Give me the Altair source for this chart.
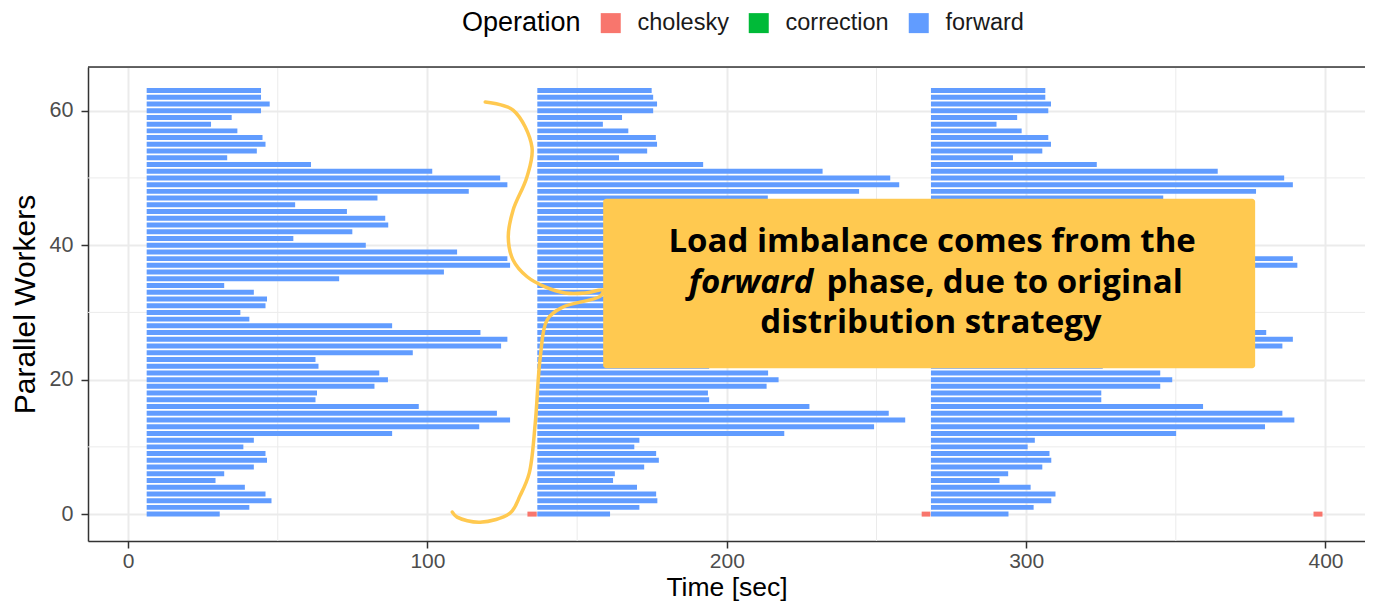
import altair as alt
import pandas as pd

# ---------------- data ----------------
workers = list(range(64))
phase_start = [6.2, 136.7, 268.2]

phase1_end = [30.6, 40.5, 47.9, 45.9, 39.0, 29.2, 32.1, 42.0, 46.4, 45.9,
              38.5, 42.0, 88.2, 117.3, 127.6, 123.2, 97.1, 62.6, 63.1, 82.3,
              86.8, 83.9, 63.6, 62.6, 95.1, 124.6, 126.7, 117.7, 88.2, 40.5,
              37.5, 45.9, 46.4, 42.0, 32.1, 70.5, 105.5, 127.6, 126.7, 109.9,
              79.4, 55.2, 74.9, 86.9, 85.9, 73.1, 55.8, 83.3, 113.8, 126.7,
              124.3, 101.6, 61.1, 33.1, 43.0, 45.9, 44.9, 36.5, 27.7, 34.6,
              44.4, 47.3, 44.4, 44.4]

phase2_end = [161.0, 170.8, 176.8, 176.4, 170.0, 162.0, 162.6, 172.4, 177.3, 176.4,
              169.1, 170.8, 219.2, 249.2, 259.6, 254.1, 227.6, 194.1, 193.7, 213.3,
              217.3, 213.8, 194.1, 193.1, 225.6, 255.1, 257.2, 248.2, 218.7, 171.0,
              168.0, 176.4, 176.9, 172.5, 162.6, 201.0, 236.0, 258.1, 257.2, 240.4,
              209.9, 185.7, 205.4, 217.4, 216.4, 203.6, 186.3, 213.7, 244.2, 257.6,
              254.6, 232.0, 192.1, 164.0, 173.4, 176.7, 176.3, 167.1, 158.6, 165.0,
              175.4, 176.7, 175.4, 174.9]

phase3_end = [294.1, 302.5, 308.4, 309.8, 301.5, 291.1, 294.0, 305.4, 308.4, 307.8,
              300.5, 302.9, 350.1, 379.8, 389.6, 385.6, 359.1, 325.1, 325.1, 344.8,
              348.8, 344.8, 325.6, 324.6, 357.1, 385.6, 389.1, 380.2, 350.2, 302.5,
              299.5, 307.9, 308.4, 304.0, 294.1, 332.5, 367.5, 390.6, 389.1, 371.9,
              341.4, 317.2, 336.9, 348.9, 347.9, 335.1, 317.8, 345.8, 376.8, 389.1,
              386.2, 364.0, 323.6, 295.6, 305.4, 308.3, 307.4, 298.5, 290.1, 297.0,
              307.4, 308.3, 306.4, 306.4]

chol_worker = [0, 0, 0]
chol_start = [133.4, 265.1, 396.0]
chol_end = [136.5, 268.0, 399.0]

operations = ["cholesky", "correction", "forward"]
op_colors = ["#F8766D", "#00BA38", "#619CFF"]

x_major = [0, 100, 200, 300, 400]
x_minor = [50, 150, 250, 350]
y_major = [0, 20, 40, 60]
y_minor = [10, 30, 50]

# annotation (in data coordinates)
brace_t = [119.3, 128.6, 134.9, 133.2, 128.6, 127.0, 128.6, 133.3, 139.3, 146.0,
           152.7, 158.7, 157.7, 145.3, 140.0, 137.7, 136.0, 134.0, 131.0, 127.6,
           117.6, 109.9, 108.3]
brace_w = [61.3, 60.1, 54.6, 50.1, 45.2, 41.2, 37.8, 35.3, 33.8, 32.9,
           32.9, 33.3, 32.4, 30.8, 28.9, 23.4, 13.5, 6.1, 2.8, 0.15,
           -1.2, -0.45, 0.3]
box_t = [158.7, 376.5]
box_w = [21.7, 46.9]
note_lines = ["Load imbalance comes from the", "distribution strategy"]
note_line_t = [268.6, 268.2]
note_line_w = [39.0, 26.9]
note_italic = "forward"
note_italic_t = 228.9
note_rest = "phase, due to original"
note_rest_t = 233.3
note_mid_w = 32.9

# ---------------- layout ----------------
X_DOMAIN = [-13.4, 413.2]
Y_DOMAIN = [-4.0, 66.5]
PLOT_W = 1277
PLOT_H = 474
BAR_HALF = 0.37
FONT = "Liberation Sans"
NOTE_FONT = "Open Sans"
NOTE_SIZE = 33
YELLOW = "#FFC950"

rows = []
for p, ends in enumerate([phase1_end, phase2_end, phase3_end]):
    for w, e in zip(workers, ends):
        rows.append({"worker": w, "start": phase_start[p], "end": e, "Operation": "forward"})
for w, s, e in zip(chol_worker, chol_start, chol_end):
    rows.append({"worker": w, "start": s, "end": e, "Operation": "cholesky"})
bars_df = pd.DataFrame(rows)

xs = alt.Scale(domain=X_DOMAIN, nice=False, zero=False)
ys = alt.Scale(domain=Y_DOMAIN, nice=False, zero=False)

x_axis = alt.Axis(values=x_major, title="Time [sec]", grid=True, format="d",
                  labelPadding=2, labelFontSize=21, titleBaseline="alphabetic",
                  titleY=54, titleFontSize=26.5)
y_axis = alt.Axis(values=y_major, title="Parallel Workers", grid=True, format="d",
                  labelPadding=8, labelFontSize=21.5, titlePadding=9, titleFontSize=30)


def X(field):
    return alt.X(field, scale=xs, axis=x_axis)


def Y(field):
    return alt.Y(field, scale=ys, axis=y_axis)


minor_x = alt.Chart(pd.DataFrame({"t": x_minor})).mark_rule(
    color="#EBEBEB", strokeWidth=1).encode(x=X("t:Q"))
minor_y = alt.Chart(pd.DataFrame({"w": y_minor})).mark_rule(
    color="#EBEBEB", strokeWidth=1).encode(y=Y("w:Q"))

bars = alt.Chart(bars_df).transform_calculate(
    lo=f"datum.worker - {BAR_HALF}", hi=f"datum.worker + {BAR_HALF}"
).mark_rect().encode(
    x=X("start:Q"),
    x2="end:Q",
    y=Y("lo:Q"),
    y2="hi:Q",
    color=alt.Color("Operation:N",
                    scale=alt.Scale(domain=operations, range=op_colors),
                    legend=alt.Legend(orient="none", legendX=374, legendY=-56,
                                      direction="horizontal", titleOrient="left",
                                      title="Operation", titleFont=FONT,
                                      titleFontSize=27, titleFontWeight="normal",
                                      titleColor="black", titlePadding=18,
                                      labelFont=FONT, labelFontSize=23.5,
                                      labelColor="#1A1A1A", labelOffset=15,
                                      symbolType="square", symbolSize=400,
                                      symbolStrokeWidth=0, columnPadding=18)),
)

top_border = alt.Chart(pd.DataFrame({"w": [Y_DOMAIN[1]]})).mark_rule(
    color="#333333", strokeWidth=1.5).encode(
    y=Y("w:Q"), x=alt.value(0), x2=alt.value(PLOT_W))

brace = alt.Chart(pd.DataFrame({"t": brace_t, "w": brace_w, "i": list(range(len(brace_t)))})
                  ).mark_line(color=YELLOW, strokeWidth=3.5, interpolate="catmull-rom",
                              strokeCap="round").encode(
    x=X("t:Q"), y=Y("w:Q"), order="i:Q")

box = alt.Chart(pd.DataFrame({"t1": [box_t[0]], "t2": [box_t[1]],
                              "w1": [box_w[0]], "w2": [box_w[1]]})).mark_rect(
    color=YELLOW, cornerRadius=3).encode(
    x=X("t1:Q"), x2="t2:Q", y=Y("w1:Q"), y2="w2:Q")

note_main = alt.Chart(pd.DataFrame({"t": note_line_t, "w": note_line_w, "txt": note_lines})
                      ).mark_text(font=NOTE_FONT, fontSize=NOTE_SIZE, fontWeight="bold",
                                  color="black", align="center", baseline="alphabetic").encode(
    x=X("t:Q"), y=Y("w:Q"), text="txt:N")

note_it = alt.Chart(pd.DataFrame({"t": [note_italic_t], "w": [note_mid_w], "txt": [note_italic]})
                    ).mark_text(font=NOTE_FONT, fontSize=NOTE_SIZE, fontWeight="bold",
                                fontStyle="italic", color="black", align="right",
                                baseline="alphabetic").encode(
    x=X("t:Q"), y=Y("w:Q"), text="txt:N")

note_rt = alt.Chart(pd.DataFrame({"t": [note_rest_t], "w": [note_mid_w], "txt": [note_rest]})
                    ).mark_text(font=NOTE_FONT, fontSize=NOTE_SIZE, fontWeight="bold",
                                color="black", align="left", baseline="alphabetic").encode(
    x=X("t:Q"), y=Y("w:Q"), text="txt:N")

chart = alt.layer(minor_x, minor_y, bars, top_border, brace, box, note_main, note_it, note_rt
                  ).properties(
    width=PLOT_W, height=PLOT_H,
    autosize=alt.AutoSizeParams(type="none"),
    padding={"left": 80, "top": 59, "right": 0, "bottom": 60},
).configure_view(stroke=None).configure(background="white").configure_axis(
    gridColor="#EBEBEB", gridWidth=2, domainColor="#333333", domainWidth=1.5,
    tickColor="#333333", tickSize=7, tickWidth=1.5,
    labelColor="#4D4D4D", labelFont=FONT,
    titleFont=FONT, titleFontWeight="normal", titleColor="black",
)

chart.save("out.html", embed_options={"renderer": "svg", "actions": False})
